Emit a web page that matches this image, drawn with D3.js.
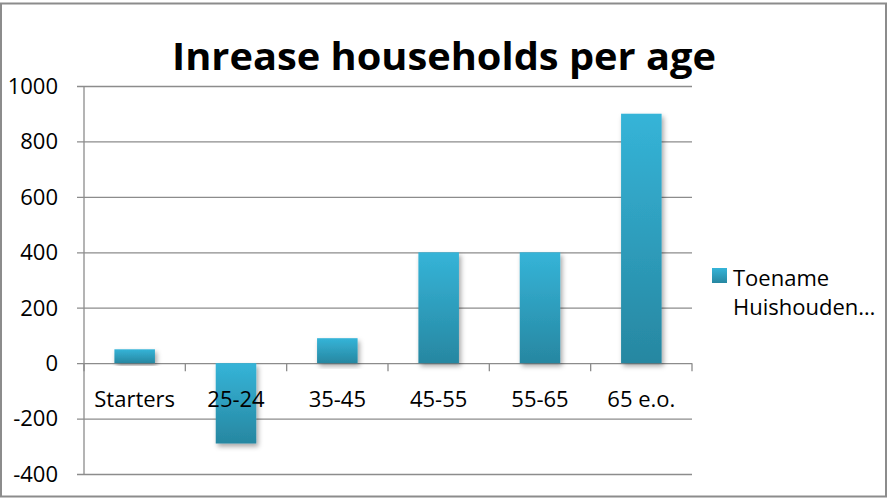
<!DOCTYPE html>
<html>
<head>
<meta charset="utf-8">
<script src="https://cdn.jsdelivr.net/npm/d3@7"></script>
<style>
  body { margin: 0; background: #fff; }
  svg text { font-family: "Open Sans", "Noto Sans", sans-serif; fill: #000; }
</style>
</head>
<body>
<div id="chart"></div>
<script>
const categories = ['Starters', '25-24', '35-45', '45-55', '55-65', '65 e.o.']
const values = [50, -290, 90, 400, 400, 900]
const yTicks = [-400, -200, 0, 200, 400, 600, 800, 1000]
const seriesName = ['Toename', 'Huishouden…']
const title = 'Inrease households per age'

const W = 888
const H = 498
const MARGIN = { TOP: 86, RIGHT: 196, BOTTOM: 24, LEFT: 84 }

const svg = d3.select('#chart').append('svg')
    .attr('width', W)
    .attr('height', H)

const defs = svg.append('defs')
const grad = defs.append('linearGradient')
    .attr('id', 'barGrad')
    .attr('x1', 0).attr('y1', 0).attr('x2', 0).attr('y2', 1)
grad.append('stop').attr('offset', '0%').attr('stop-color', '#35b4d8')
grad.append('stop').attr('offset', '100%').attr('stop-color', '#2787a1')

const shadow = defs.append('filter')
    .attr('id', 'shadow')
    .attr('x', '-30%').attr('y', '-10%').attr('width', '160%').attr('height', '130%')
shadow.append('feDropShadow')
    .attr('dx', 2).attr('dy', 3).attr('stdDeviation', 2.5)
    .attr('flood-color', '#000').attr('flood-opacity', 0.35)

// chart frame
svg.append('rect')
    .attr('x', 1).attr('y', 3.5)
    .attr('width', W - 3).attr('height', H - 5)
    .attr('fill', 'none')
    .attr('stroke', '#8c8c8c')
    .attr('stroke-width', 2)

const x = d3.scaleBand()
    .domain(categories)
    .range([MARGIN.LEFT, W - MARGIN.RIGHT])
    .paddingInner(0.6)
    .paddingOuter(0.3)

const xTickScale = d3.scaleLinear()
    .domain([0, categories.length])
    .range([MARGIN.LEFT, W - MARGIN.RIGHT])

const y = d3.scaleLinear()
    .domain([-400, 1000])
    .range([H - MARGIN.BOTTOM, MARGIN.TOP])

// gridlines
svg.append('g')
    .selectAll('line')
    .data(yTicks)
    .join('line')
    .attr('x1', MARGIN.LEFT - 7)
    .attr('x2', W - MARGIN.RIGHT)
    .attr('y1', (d) => y(d) + 0.5)
    .attr('y2', (d) => y(d) + 0.5)
    .attr('stroke', '#8c8c8c')
    .attr('stroke-width', 1.3)

// y axis line
svg.append('line')
    .attr('x1', MARGIN.LEFT).attr('x2', MARGIN.LEFT)
    .attr('y1', y(1000)).attr('y2', y(-400))
    .attr('stroke', '#8c8c8c')
    .attr('stroke-width', 1.3)

// y labels
svg.append('g')
    .selectAll('text')
    .data(yTicks)
    .join('text')
    .attr('x', MARGIN.LEFT - 26)
    .attr('y', (d) => y(d))
    .attr('dy', '0.36em')
    .attr('text-anchor', 'end')
    .attr('font-size', 22)
    .text((d) => d)

// category ticks on zero line
svg.append('g')
    .selectAll('line')
    .data(d3.range(categories.length + 1))
    .join('line')
    .attr('x1', (d) => xTickScale(d))
    .attr('x2', (d) => xTickScale(d))
    .attr('y1', y(0))
    .attr('y2', y(0) + 8)
    .attr('stroke', '#8c8c8c')
    .attr('stroke-width', 1.3)

// bars
svg.append('g')
    .selectAll('rect')
    .data(values)
    .join('rect')
    .attr('x', (d, i) => x(categories[i]))
    .attr('y', (d) => y(Math.max(0, d)))
    .attr('width', x.bandwidth())
    .attr('height', (d) => Math.abs(y(d) - y(0)))
    .attr('fill', 'url(#barGrad)')
    .attr('filter', 'url(#shadow)')

// category labels
svg.append('g')
    .selectAll('text')
    .data(categories)
    .join('text')
    .attr('x', (d) => x(d) + x.bandwidth() / 2)
    .attr('y', y(0) + 44)
    .attr('text-anchor', 'middle')
    .attr('font-size', 22)
    .text((d) => d)

// title
svg.append('text')
    .attr('x', 444)
    .attr('y', 70)
    .attr('text-anchor', 'middle')
    .attr('font-size', 38)
    .attr('font-weight', 'bold')
    .attr('textLength', 544)
    .attr('lengthAdjust', 'spacingAndGlyphs')
    .text(title)

// legend
const legend = svg.append('g').attr('transform', 'translate(712,268)')
legend.append('rect')
    .attr('width', 15).attr('height', 15)
    .attr('fill', 'url(#barGrad)')
legend.selectAll('text')
    .data(seriesName)
    .join('text')
    .attr('x', 21)
    .attr('y', (d, i) => 18 + i * 29)
    .attr('font-size', 22)
    .text((d) => d)
</script>
</body>
</html>
